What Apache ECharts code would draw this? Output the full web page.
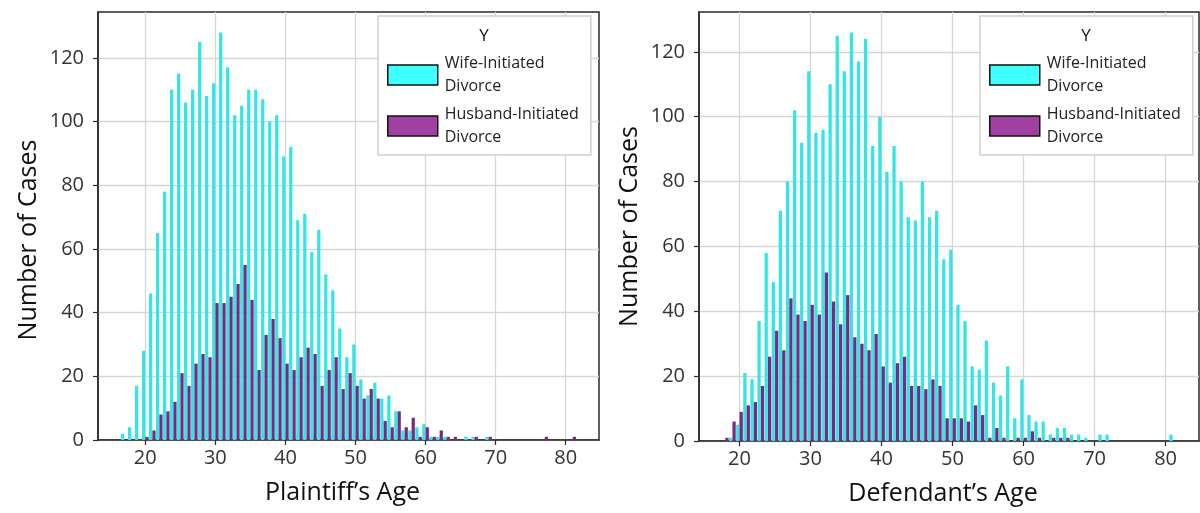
<!DOCTYPE html>
<html><head><meta charset="utf-8">
<script src="https://cdn.jsdelivr.net/npm/echarts@6/dist/echarts.min.js"></script>
<style>html,body{margin:0;padding:0;background:#fff}#c{width:1200px;height:513px}</style>
</head><body><div id="c"></div>
<script>
// ---------- DATA ----------
const seriesNames = ['Wife-Initiated\nDivorce', 'Husband-Initiated\nDivorce'];
const legendTitle = 'Y';
const xTicks = [20, 30, 40, 50, 60, 70, 80];
const yTicks = [0, 20, 40, 60, 80, 100, 120];

const plaintiffAges = [17,18,19,20,21,22,23,24,25,26,27,28,29,30,31,32,33,34,35,36,37,38,39,40,41,42,43,44,45,46,47,48,49,50,51,52,53,54,55,56,57,58,59,60,61,62,63,64,65,66,67,68,69,70,71,72,73,74,75,76,77,78,79,80,81];
const plaintiffWife = [2,4,17,28,46,65,78,110,115,106,110,125,108,112,128,117,102,105,110,110,107,100,102,89,92,69,71,59,66,52,47,35,26,30,19,14,18,13,14,9,3,3,4,5,1,1,1,0,0,1,1,0,1,0,0,0,0,0,0,0,0,0,0,0,0];
const plaintiffHusband = [0,0,0,1,3,8,9,12,21,17,24,27,26,43,43,45,49,55,44,22,33,38,32,24,22,26,29,27,17,22,26,16,21,17,13,16,13,6,4,9,4,7,1,4,1,3,1,1,0,0,1,0,1,0,0,0,0,0,0,0,1,0,0,0,1];

const defendantAges = [18,19,20,21,22,23,24,25,26,27,28,29,30,31,32,33,34,35,36,37,38,39,40,41,42,43,44,45,46,47,48,49,50,51,52,53,54,55,56,57,58,59,60,61,62,63,64,65,66,67,68,69,70,71,72,73,74,75,76,77,78,79,80,81];
const defendantWife = [0,1,5,21,19,37,58,49,71,80,102,92,114,95,96,110,125,114,126,117,124,91,100,83,91,80,69,68,80,69,71,56,59,42,37,23,22,31,18,14,23,7,19,8,6,6,2,4,4,2,2,1,0,2,2,0,0,0,0,0,0,0,0,2];
const defendantHusband = [1,6,9,11,12,17,26,34,28,44,39,37,42,39,52,43,36,45,32,30,28,33,23,18,24,26,17,17,16,19,17,7,7,7,6,11,8,1,4,1,0,1,1,3,1,0,1,1,1,0,0,0,0,0,0,0,0,0,0,0,0,0,0,0];

const xTitles = ['Plaintiff\u2019s Age', 'Defendant\u2019s Age'];
const yTitle = 'Number of Cases';

// ---------- STYLE ----------
const FONT = '"Open Sans", "Noto Sans", sans-serif';
const barColors = ['#30e6e6', '#7a2a80'];
const legendColors = ['#40ffff', '#a040a0'];
const gridLine = '#d6d6d6';
const frame = '#2a2a2a';

const panels = [
  {ages: plaintiffAges, wife: plaintiffWife, husband: plaintiffHusband, xmin: 13.25, xmax: 84.75, ymax: 134.4,
   grid: {left: 98, right: 601, top: 12, bottom: 73}, legendLeft: 378, yNamePad: [0, 28, 0, 0]},
  {ages: defendantAges, wife: defendantWife, husband: defendantHusband, xmin: 14.3, xmax: 84.7, ymax: 132.3,
   grid: {left: 699, right: 1, top: 12, bottom: 72}, legendLeft: 980, yNamePad: [0, 0, 0, 0]}
];

const grids = [], xAxes = [], yAxes = [], series = [], legends = [], graphics = [];
panels.forEach((p, i) => {
  grids.push(Object.assign({show: true, borderColor: frame, borderWidth: 1.5, backgroundColor: 'transparent'}, p.grid));
  xAxes.push({
    type: 'value', gridIndex: i, min: p.xmin, max: p.xmax,
    name: xTitles[i], nameLocation: 'middle', nameGap: 40,
    nameTextStyle: {fontFamily: FONT, fontSize: 25, color: '#111', padding: [0, 12, 0, 0]},
    axisLine: {show: true, onZero: false, lineStyle: {color: frame, width: 1.5}},
    axisTick: {show: true, length: 5, customValues: xTicks, lineStyle: {color: frame, width: 1.2}},
    axisLabel: {customValues: xTicks, margin: 8, fontFamily: FONT, fontSize: 20, color: '#333'},
    splitLine: {show: true, lineStyle: {color: gridLine, width: 1.3}}
  });
  yAxes.push({
    type: 'value', gridIndex: i, min: 0, max: p.ymax,
    name: yTitle, nameLocation: 'middle', nameGap: 57,
    nameTextStyle: {fontFamily: FONT, fontSize: 25, color: '#111', padding: p.yNamePad},
    axisLine: {show: true, lineStyle: {color: frame, width: 1.5}},
    axisTick: {show: true, length: 5, customValues: yTicks, lineStyle: {color: frame, width: 1.2}},
    axisLabel: {customValues: yTicks, margin: 14, fontFamily: FONT, fontSize: 20, color: '#333'},
    splitLine: {show: true, lineStyle: {color: gridLine, width: 1.3}}
  });
  [p.wife, p.husband].forEach((vals, k) => {
    series.push({
      type: 'bar', name: seriesNames[k], xAxisIndex: i, yAxisIndex: i,
      data: p.ages.map((a, j) => [a, vals[j]]),
      barWidth: '46%', barGap: '4%',
      itemStyle: {color: barColors[k]},
      silent: true, animation: false
    });
  });
  legends.push({
    orient: 'vertical', left: p.legendLeft, top: 16,
    padding: [36, 12, 6, 9], itemGap: 5, itemWidth: 50, itemHeight: 20,
    borderColor: '#cfcfcf', borderWidth: 1.5, backgroundColor: '#fff',
    icon: 'rect',
    textStyle: {fontFamily: FONT, fontSize: 16, lineHeight: 23, color: '#222', padding: [0, 0, 0, 2]},
    data: seriesNames.map((n, k) => ({name: n, itemStyle: {color: legendColors[k], borderColor: '#111', borderWidth: 1.5}}))
  });
  graphics.push({type: 'text', x: p.legendLeft + 106, y: 36, z: 100,
    style: {text: legendTitle, fontFamily: FONT, fontSize: 17, fill: '#111', textAlign: 'center', textVerticalAlign: 'middle'}});
});

const chart = echarts.init(document.getElementById('c'), null, {renderer: 'canvas'});
chart.setOption({
  animation: false,
  backgroundColor: '#fff',
  grid: grids, xAxis: xAxes, yAxis: yAxes, series: series, legend: legends, graphic: graphics
});
</script></body></html>
